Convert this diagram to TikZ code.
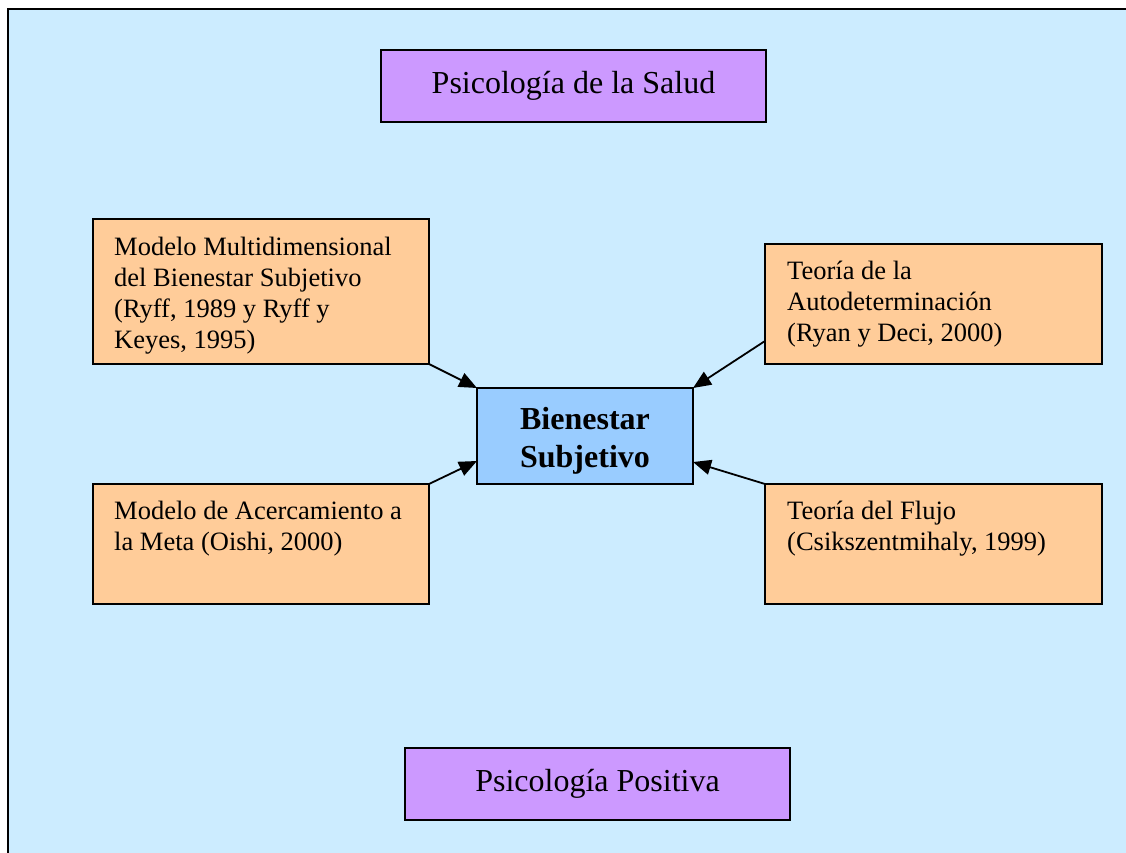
\documentclass[tikz,border=0pt]{standalone}
\usepackage{fontspec}
\setmainfont{Liberation Serif}
\usetikzlibrary{arrows.meta,calc}
\definecolor{bgblue}{HTML}{CCECFF}
\definecolor{lilac}{HTML}{CC99FF}
\definecolor{peach}{HTML}{FFCC99}
\definecolor{midblue}{HTML}{99CCFF}
\begin{document}
\begin{tikzpicture}[x=1pt,y=-1pt,
  box/.style={draw=black, line width=2pt, inner sep=0pt, outer sep=0pt},
  purplebox/.style={box, fill=lilac, minimum width=385pt, minimum height=72pt, font=\fontsize{32}{38}\selectfont},
  peachbox/.style={box, fill=peach, minimum width=336pt},
  centerbox/.style={box, fill=midblue, minimum width=216pt, minimum height=96pt, align=center, text height=72pt, text depth=10pt, font=\fontsize{32}{38}\selectfont\bfseries},
  boxtext/.style={anchor=base west, align=left, inner sep=0pt, font=\fontsize{26.5}{31}\selectfont},
  arr/.style={line width=1.8pt, -{Triangle[length=18pt,width=15pt]}}
]
\useasboundingbox (0,0) rectangle (1126,853);
\clip (0,0) rectangle (1126,853);
\draw[fill=bgblue, line width=2.4pt] (8,9) rectangle (1140,870);

\node[purplebox] (salud) at (573.5,86) {Psicología de la Salud};
\node[purplebox] (positiva) at (597.5,784) {Psicología Positiva};
\node[centerbox] (bien) at (585,436) {Bienestar\\Subjetivo};

\node[peachbox, minimum height=145pt] (ryff) at (261,291.5) {};
\node[peachbox, minimum height=120pt] (oishi) at (261,544) {};
\node[peachbox, minimum width=337pt, minimum height=120pt] (ryan) at (933.5,304) {};
\node[peachbox, minimum width=337pt, minimum height=120pt] (flujo) at (933.5,544) {};

% base anchor = baseline of the last line
\node[boxtext] (ryfft) at ($(ryff.north west)+(21,129)$) {Modelo Multidimensional\\del Bienestar Subjetivo\\(Ryff, 1989 y Ryff y\\Keyes, 1995)};
\node[boxtext] (oishit) at ($(oishi.north west)+(21,66)$) {Modelo de Acercamiento a\\la Meta (Oishi, 2000)};
\node[boxtext] (ryant) at ($(ryan.north west)+(22,97)$) {Teoría de la\\Autodeterminación\\(Ryan y Deci, 2000)};
\node[boxtext] (flujot) at ($(flujo.north west)+(22,66)$) {Teoría del Flujo\\(Csikszentmihaly, 1999)};

\draw[arr] (ryff.south east) -- (bien.north west);
\draw[arr] (oishi.north east) -- ($(bien.south west)+(0,-23)$);
\draw[arr] ($(ryan.south west)+(0,-23)$) -- (bien.north east);
\draw[arr] (flujo.north west) -- ($(bien.south east)+(0,-22)$);
\end{tikzpicture}
\end{document}
